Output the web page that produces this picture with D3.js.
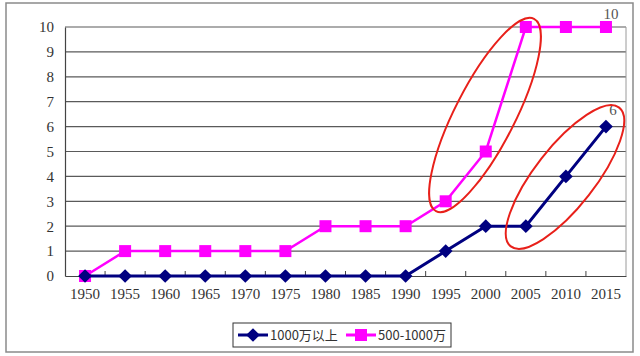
<!DOCTYPE html>
<html><head><meta charset="utf-8">
<script src="https://cdn.jsdelivr.net/npm/d3@7"></script>
<style>body{margin:0;background:#fff}svg{display:block}</style>
</head><body>
<script>
const years = ["1950","1955","1960","1965","1970","1975","1980","1985","1990","1995","2000","2005","2010","2015"];
const over1000 = [0,0,0,0,0,0,0,0,0,1,2,2,4,6];
const from500to1000 = [0,1,1,1,1,1,2,2,2,3,5,10,10,10];
const yTicks = [0,1,2,3,4,5,6,7,8,9,10];
const seriesNames = ["1000万以上","500-1000万"];

const W=640,H=356;
const svg=d3.select("body").append("svg").attr("width",W).attr("height",H);
svg.append("rect").attr("x",6).attr("y",3).attr("width",627).attr("height",349)
  .attr("fill","#fff").attr("stroke","#8a8a8a").attr("stroke-width",1.5);

const L=65,R=626,T=27,B=276;
const x=d3.scaleBand().domain(years).range([L,R]);
const y=d3.scaleLinear().domain([0,10]).range([B,T]);
const cx=d=>x(d)+x.bandwidth()/2;
const tickFont="'Liberation Serif','Noto Sans CJK SC',serif";

// gridlines
svg.append("g").selectAll("line").data(yTicks.filter(v=>v>0)).join("line")
  .attr("x1",L).attr("x2",R).attr("y1",d=>y(d)).attr("y2",d=>y(d))
  .attr("stroke","#5a5a5a").attr("stroke-width",1.2);
// right border
svg.append("line").attr("x1",R).attr("x2",R).attr("y1",T).attr("y2",B).attr("stroke","#9a9a9a").attr("stroke-width",1);
// y axis
const ya=svg.append("g").attr("transform",`translate(${L},0)`)
  .call(d3.axisLeft(y).tickValues(yTicks).tickSize(0).tickPadding(11).tickFormat(d3.format("d")));
ya.select(".domain").attr("stroke","#444").attr("stroke-width",1.2);
ya.selectAll("text").attr("font-family",tickFont).attr("font-size",15).attr("fill","#333");
// x axis
const xa=svg.append("g").attr("transform",`translate(0,${B})`)
  .call(d3.axisBottom(x).tickSize(0).tickPadding(12));
xa.select(".domain").attr("stroke","#444").attr("stroke-width",1.2);
xa.selectAll("text").attr("font-family",tickFont).attr("font-size",15).attr("fill","#333");
// tick marks between categories, pointing up
svg.append("g").selectAll("line").data(years.slice(1)).join("line")
  .attr("x1",d=>x(d)).attr("x2",d=>x(d)).attr("y1",B).attr("y2",B-5)
  .attr("stroke","#444").attr("stroke-width",1);

const line=d3.line().x((d,i)=>cx(years[i])).y(d=>y(d));
// magenta series
svg.append("path").datum(from500to1000).attr("d",line).attr("fill","none")
  .attr("stroke","#ff00ff").attr("stroke-width",2.5);
svg.append("g").selectAll("rect").data(from500to1000).join("rect")
  .attr("x",(d,i)=>cx(years[i])-6).attr("y",d=>y(d)-6).attr("width",12).attr("height",12)
  .attr("fill","#ff00ff");
// navy series
svg.append("path").datum(over1000).attr("d",line).attr("fill","none")
  .attr("stroke","#000080").attr("stroke-width",3);
const diamond=d3.symbol().type(d3.symbolDiamond2).size(120);
svg.append("g").selectAll("path").data(over1000).join("path")
  .attr("d",diamond).attr("transform",(d,i)=>`translate(${cx(years[i])},${y(d)})`)
  .attr("fill","#000080");

// end labels
const lastI=years.length-1;
svg.append("text").attr("x",cx(years[lastI])+5).attr("y",y(from500to1000[lastI])-8)
  .text(from500to1000[lastI]).attr("font-family",tickFont).attr("font-size",15).attr("fill","#555").attr("text-anchor","middle");
svg.append("text").attr("x",cx(years[lastI])+7).attr("y",y(over1000[lastI])-12)
  .text(over1000[lastI]).attr("font-family",tickFont).attr("font-size",15).attr("fill","#555").attr("text-anchor","middle");

// red ellipses (annotations)
svg.append("ellipse").attr("cx",0).attr("cy",0).attr("rx",108).attr("ry",30)
  .attr("transform","translate(485,115) rotate(-63)")
  .attr("fill","none").attr("stroke","#e8201a").attr("stroke-width",2);
svg.append("ellipse").attr("cx",0).attr("cy",0).attr("rx",88).attr("ry",30)
  .attr("transform","translate(565,177) rotate(-52)")
  .attr("fill","none").attr("stroke","#e8201a").attr("stroke-width",2);

// legend
const lg=svg.append("g");
lg.append("rect").attr("x",233).attr("y",323).attr("width",218).attr("height",24)
  .attr("fill","#fff").attr("stroke","#333").attr("stroke-width",1);
const ly=335;
lg.append("line").attr("x1",238).attr("x2",268).attr("y1",ly).attr("y2",ly).attr("stroke","#000080").attr("stroke-width",3);
lg.append("path").attr("d",diamond).attr("transform",`translate(253,${ly})`).attr("fill","#000080");
lg.append("text").attr("x",270).attr("y",ly+5).text(seriesNames[0])
  .attr("font-family","'Noto Sans CJK SC',sans-serif").attr("font-size",13).attr("fill","#333");
lg.append("line").attr("x1",346).attr("x2",376).attr("y1",ly).attr("y2",ly).attr("stroke","#ff00ff").attr("stroke-width",3);
lg.append("rect").attr("x",355).attr("y",ly-6).attr("width",12).attr("height",12).attr("fill","#ff00ff");
lg.append("text").attr("x",378).attr("y",ly+5).text(seriesNames[1])
  .attr("font-family","'Noto Sans CJK SC',sans-serif").attr("font-size",13).attr("fill","#333");
</script>
</body></html>
